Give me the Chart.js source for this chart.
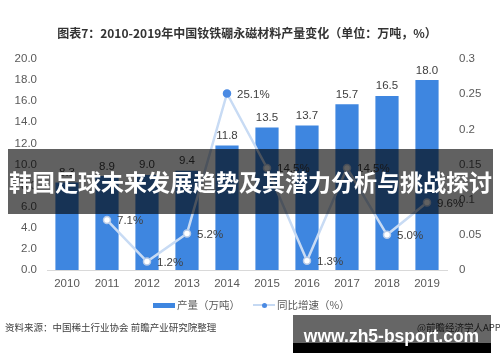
<!DOCTYPE html>
<html>
<head>
<meta charset="utf-8">
<script src="https://cdn.jsdelivr.net/npm/chart.js@4.4.0/dist/chart.umd.min.js"></script>
<style>
	body { margin: 0; background: #fff; }
	#wrap { position: relative; width: 500px; height: 362px; overflow: hidden; font-family: "Noto Sans CJK SC", "Noto Sans", sans-serif; }
	canvas { position: absolute; left: 0; top: 0; }
	.abs { position: absolute; white-space: nowrap; }
</style>
</head>
<body>
<div id="wrap">
	<canvas id="chart" width="500" height="362"></canvas>

	<div class="abs" style="left:0;width:494px;top:24px;height:18px;line-height:18px;text-align:center;font-size:12px;font-weight:bold;color:#333;">图表7：2010-2019年中国钕铁硼永磁材料产量变化（单位：万吨，%）</div>

	<!-- legend -->
	<div class="abs" style="left:153px;top:303px;width:22px;height:5px;background:#3e86e0;"></div>
	<div class="abs" style="left:177px;top:297px;height:16px;line-height:16px;font-size:10.5px;color:#595959;">产量（万吨）</div>
	<div class="abs" style="left:253px;top:304px;width:22px;height:2px;background:#c5d9f3;"></div>
	<div class="abs" style="left:261.5px;top:302.5px;width:5px;height:5px;border-radius:50%;background:#4a8ae3;"></div>
	<div class="abs" style="left:277px;top:297px;height:16px;line-height:16px;font-size:10.5px;color:#595959;">同比增速（%）</div>

	<!-- footer -->
	<div class="abs" style="left:5px;top:319px;height:16px;line-height:16px;font-size:9.5px;color:#404040;">资料来源：中国稀土行业协会 前瞻产业研究院整理</div>
	<div class="abs" style="left:417px;top:319px;height:16px;line-height:16px;font-size:9.5px;color:#404040;">@前瞻经济学人APP</div>

	<!-- overlays -->
	<div class="abs" style="left:8px;top:149px;width:485px;height:65px;line-height:65px;background:rgba(0,0,0,0.62);color:#fff;font-size:23px;font-weight:bold;text-align:center;">韩国足球未来发展趋势及其潜力分析与挑战探讨</div>
	<div class="abs" style="left:293px;top:315px;width:198px;height:28px;background:rgba(0,0,0,0.6);"></div>
	<div class="abs" style="left:293px;top:343px;width:198px;height:10px;background:#000;"></div>
	<div class="abs" style="left:293px;top:327px;width:197px;height:18px;line-height:18px;text-align:center;font-family:'Liberation Sans',Arial,sans-serif;font-weight:bold;font-size:17.5px;color:#fff;">www.zh5-bsport.com</div>
</div>

<script>
const years = ['2010', '2011', '2012', '2013', '2014', '2015', '2016', '2017', '2018', '2019'];
const output = [8.3, 8.9, 9.0, 9.4, 11.8, 13.5, 13.7, 15.7, 16.5, 18.0];
const growth = [null, 0.071, 0.012, 0.052, 0.251, 0.145, 0.013, 0.145, 0.050, 0.096];

const numFont = '"Liberation Sans Narrow", "Liberation Sans", sans-serif';

// value labels above bars and beside line points
const valueLabels = {
	id: 'valueLabels',
	afterDatasetsDraw(chart) {
		const ctx = chart.ctx;
		ctx.save();
		ctx.font = '11.5px ' + numFont;
		ctx.fillStyle = '#404040';

		const bars = chart.getDatasetMeta(0).data;
		ctx.textAlign = 'center';
		ctx.textBaseline = 'bottom';
		bars.forEach((bar, i) => {
			ctx.fillText(output[i].toFixed(1), bar.x, bar.y - 4);
		});

		const points = chart.getDatasetMeta(1).data;
		ctx.textAlign = 'left';
		ctx.textBaseline = 'middle';
		points.forEach((pt, i) => {
			if (growth[i] === null) return;
			ctx.fillText((growth[i] * 100).toFixed(1) + '%', pt.x + 10, pt.y + 1);
		});
		ctx.restore();
	}
};

new Chart(document.getElementById('chart'), {
	type: 'bar',
	data: {
		labels: years,
		datasets: [
			{
				label: '产量（万吨）',
				data: output,
				backgroundColor: '#3e86e0',
				barPercentage: 0.58,
				categoryPercentage: 1,
				yAxisID: 'y',
				order: 2
			},
			{
				type: 'line',
				label: '同比增速（%）',
				data: growth,
				yAxisID: 'y1',
				borderColor: '#c8dbf4',
				borderWidth: 2.5,
				pointRadius: 3.5,
				pointBorderWidth: 1.5,
				pointBorderColor: growth.map((v, i) => (i === 4 ? '#4a8ae3' : '#b7cbe8')),
				pointBackgroundColor: growth.map((v, i) => (i === 4 ? '#4a8ae3' : '#ffffff')),
				tension: 0,
				spanGaps: false,
				order: 1
			}
		]
	},
	options: {
		responsive: false,
		animation: false,
		layout: { padding: { top: 59, bottom: 66, left: 0, right: 0 } },
		plugins: {
			legend: { display: false },
			tooltip: { enabled: false }
		},
		scales: {
			x: {
				grid: { display: false, drawTicks: false },
				border: { color: '#d9d9d9', width: 1 },
				ticks: { color: '#595959', font: { family: numFont, size: 11.5 }, padding: 7 },
				afterFit: (s) => { s.height = 26; }
			},
			y: {
				position: 'left',
				min: 0,
				max: 20,
				grid: { display: false, drawTicks: false },
				border: { display: false },
				ticks: {
					stepSize: 2,
					color: '#595959',
					font: { family: numFont, size: 11.5 },
					padding: 10,
					callback: (v) => v.toFixed(1)
				},
				afterFit: (s) => { s.width = 47; }
			},
			y1: {
				position: 'right',
				min: 0,
				max: 0.3,
				grid: { display: false, drawTicks: false },
				border: { display: false },
				ticks: {
					stepSize: 0.05,
					color: '#595959',
					font: { family: numFont, size: 11.5 },
					padding: 12,
					callback: (v) => String(Math.round(v * 100) / 100)
				},
				afterFit: (s) => { s.width = 53; }
			}
		}
	},
	plugins: [valueLabels]
});
</script>
</body>
</html>
